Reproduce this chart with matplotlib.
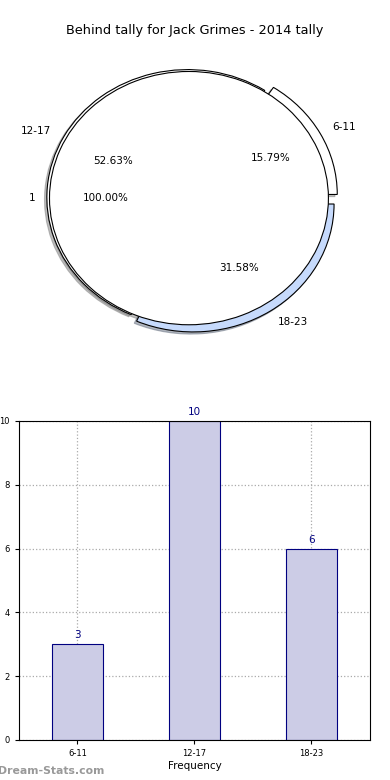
import matplotlib
matplotlib.use('Agg')
import matplotlib.pyplot as plt

categorias = ['6-11', '12-17', '18-23']
frecuencias = [3, 10, 6]
total_label = ['1']
total_valor = [1]

titulo = 'Behind tally for Jack Grimes - 2014 tally'

def graficar_pie(ax):
    sombra = {'ox': -0.012, 'oy': -0.012, 'shade': 0.5}
    ax.pie(frecuencias, labels=categorias, autopct='%1.2f%%',
           explode=(0.06, 0.01, 0.055), shadow=sombra,
           colors=['white', 'white', '#c6dafc'],
           wedgeprops={'linewidth': 0.8, 'edgecolor': 'black'},
           textprops={'fontsize': 7.5})
    ax.pie(total_valor, labels=total_label, autopct='%1.2f%%',
           radius=0.99, shadow=sombra, colors=['white'],
           wedgeprops={'linewidth': 0.8, 'edgecolor': 'black'},
           textprops={'fontsize': 7.5})
    ax.set_aspect('auto')
    ax.set_xlim(-1.25, 1.25)
    ax.set_ylim(-1.25, 1.25)

def graficar_barras(ax):
    pos = range(len(categorias))
    ax.bar(pos, frecuencias, width=0.44, color='#ccccE6',
           edgecolor='#000080', linewidth=0.8, zorder=2)
    for p, f in zip(pos, frecuencias):
        ax.text(p, f + 0.12, str(f), ha='center', va='bottom',
                color='#000080', fontsize=7.5)
    ax.set_xlim(-0.5, 2.5)
    ax.set_ylim(0, 10)
    ax.set_xticks(list(pos))
    ax.set_xticklabels(categorias)
    ax.set_yticks(range(0, 11, 2))
    ax.tick_params(labelsize=6, length=3)
    ax.grid(True, linestyle=':', color='#aaaaaa', linewidth=0.9, zorder=0)
    ax.set_axisbelow(True)
    ax.set_xlabel('Frequency', fontsize=7.5, labelpad=2)
    ax.set_ylabel('Occurrences', fontsize=7.5)
    ax.yaxis.set_label_coords(-0.068, 0.5)

def main():
    fig = plt.figure(figsize=(3.9, 7.8), dpi=100)
    fig.text(0.5, 0.961, titulo, ha='center', va='center', fontsize=9.3)

    ax1 = fig.add_axes([0.033, 0.541, 0.903, 0.41])
    graficar_pie(ax1)

    ax2 = fig.add_axes([0.0487, 0.0513, 0.9, 0.409])
    graficar_barras(ax2)

    fig.text(-0.004, 0.012, 'Dream-Stats.com', ha='left', va='center',
             fontsize=7.8, color='#999999', fontweight='bold')

    fig.savefig('out.png', dpi=100)

if __name__ == "__main__":
    main()
